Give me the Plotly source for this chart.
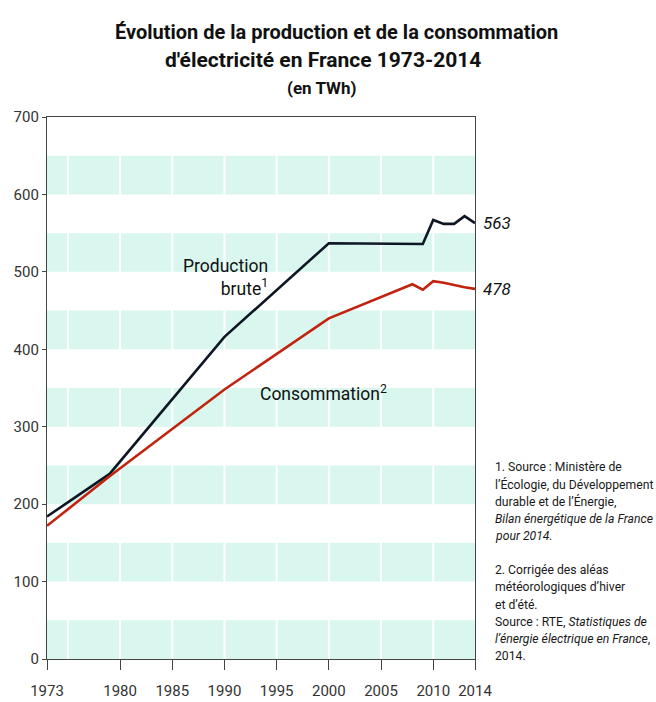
import plotly.graph_objects as go

# ---- data (TWh) ----
prod_years = [1973, 1979, 1990, 2000, 2009, 2010, 2011, 2012, 2013, 2014]
prod_values = [184, 239, 416, 537, 536, 567, 562, 562, 572, 563]

cons_years = [1973, 1979, 1990, 2000, 2008, 2009, 2010, 2011, 2012, 2013, 2014]
cons_values = [172, 236, 348, 440, 484, 477, 488, 486, 483, 480, 478]

x_ticks = [1973, 1980, 1985, 1990, 1995, 2000, 2005, 2010, 2014]
y_ticks = [0, 100, 200, 300, 400, 500, 600, 700]

band_starts = [0, 100, 200, 300, 400, 500, 600]
band_height = 50
band_separators = [1975, 1980, 1985, 1990, 1995, 2000, 2005, 2010]

footnote_lines = [
    "1. Source : Ministère de",
    "l\u2019Écologie, du Développement",
    "durable et de l\u2019Énergie,",
    "<i>Bilan énergétique de la France</i>",
    "<i>pour 2014.</i>",
    "",
    "2. Corrigée des aléas",
    "météorologiques d\u2019hiver",
    "et d\u2019été.",
    "Source : RTE, <i>Statistiques de</i>",
    "<i>l\u2019énergie électrique en France</i>,",
    "2014.",
]

# ---- layout geometry (pixels) ----
W, H = 656, 702
L, R, T, B = 47, 181, 117, 43
PW, PH = W - L - R, H - T - B


def px_x(p):
    return (p - L) / PW


def px_y(p):
    return (H - B - p) / PH


FONT = "Roboto"
TXT = "#222222"

fig = go.Figure()

fig.add_trace(go.Scatter(
    x=prod_years, y=prod_values, mode="lines",
    line=dict(color="#0f1724", width=2.6), name="Production brute",
    hoverinfo="x+y",
))
fig.add_trace(go.Scatter(
    x=cons_years, y=cons_values, mode="lines",
    line=dict(color="#c2230f", width=2.6), name="Consommation",
    hoverinfo="x+y",
))

shapes = []
for b in band_starts:
    shapes.append(dict(type="rect", xref="x", yref="y",
                       x0=prod_years[0], x1=prod_years[-1], y0=b, y1=b + band_height,
                       fillcolor="#d9f7ef", line=dict(width=0), layer="below"))
for s in band_separators:
    shapes.append(dict(type="line", xref="x", yref="y",
                       x0=s, x1=s, y0=0, y1=700,
                       line=dict(color="white", width=2), layer="below"))

annotations = []
# title
annotations.append(dict(xref="paper", yref="paper", x=px_x(336), y=px_y(32),
                        text="<b>Évolution de la production et de la consommation</b>",
                        showarrow=False, xanchor="center", yanchor="middle",
                        font=dict(family=FONT, size=20, color="#111")))
annotations.append(dict(xref="paper", yref="paper", x=px_x(323), y=px_y(60),
                        text="<b>d'électricité en France 1973-2014</b>",
                        showarrow=False, xanchor="center", yanchor="middle",
                        font=dict(family=FONT, size=21, color="#111")))
annotations.append(dict(xref="paper", yref="paper", x=px_x(321), y=px_y(88),
                        text="<b>(en TWh)</b>",
                        showarrow=False, xanchor="center", yanchor="middle",
                        font=dict(family=FONT, size=17, color="#111")))

# series labels
annotations.append(dict(xref="x", yref="y", x=1994.4, y=493,
                        text="Production<br>brute<sup>1</sup>", align="right",
                        showarrow=False, xanchor="right", yanchor="middle",
                        font=dict(family=FONT, size=17.5, color="#111")))
annotations.append(dict(xref="x", yref="y", x=1993.2, y=344,
                        text="Consommation<sup>2</sup>",
                        showarrow=False, xanchor="left", yanchor="middle",
                        font=dict(family=FONT, size=17.5, color="#111")))

# end values
annotations.append(dict(xref="x", yref="y", x=prod_years[-1], y=prod_values[-1],
                        text="<i>%d</i>" % prod_values[-1], xshift=6,
                        showarrow=False, xanchor="left", yanchor="middle",
                        font=dict(family=FONT, size=17, color="#111")))
annotations.append(dict(xref="x", yref="y", x=cons_years[-1], y=cons_values[-1],
                        text="<i>%d</i>" % cons_values[-1], xshift=6,
                        showarrow=False, xanchor="left", yanchor="middle",
                        font=dict(family=FONT, size=17, color="#111")))

# footnotes
for i, line in enumerate(footnote_lines):
    if not line:
        continue
    annotations.append(dict(xref="paper", yref="paper", x=px_x(493),
                            y=px_y(467 + i * 17.2),
                            text=line, showarrow=False,
                            xanchor="left", yanchor="middle",
                            font=dict(family=FONT, size=12.2, color="#1a1a1a")))

fig.update_layout(
    width=W, height=H,
    margin=dict(l=L, r=R, t=T, b=B, pad=0, autoexpand=False),
    paper_bgcolor="white", plot_bgcolor="white",
    showlegend=False,
    shapes=shapes, annotations=annotations,
    font=dict(family=FONT, color=TXT),
)
fig.update_xaxes(
    range=[1973, 2014], tickvals=x_ticks, ticktext=[str(t) for t in x_ticks],
    ticks="outside", ticklen=10, tickcolor="#444", tickwidth=1.2,
    showline=True, linecolor="#444", linewidth=1.2, mirror=True,
    showgrid=False, zeroline=False, ticklabelstandoff=8, automargin=False,
    tickfont=dict(family=FONT, size=15, color="#333"),
)
fig.update_yaxes(
    range=[0, 700], tickvals=y_ticks,
    ticks="outside", ticklen=4, tickcolor="#444", tickwidth=1.2,
    showline=True, linecolor="#444", linewidth=1.2, mirror=True,
    showgrid=False, zeroline=False, automargin=False,
    tickfont=dict(family=FONT, size=15, color="#333"),
)

fig.write_html("out.html", config={"displayModeBar": False},
               post_script="document.body.style.margin='0';document.body.style.overflow='hidden';")
